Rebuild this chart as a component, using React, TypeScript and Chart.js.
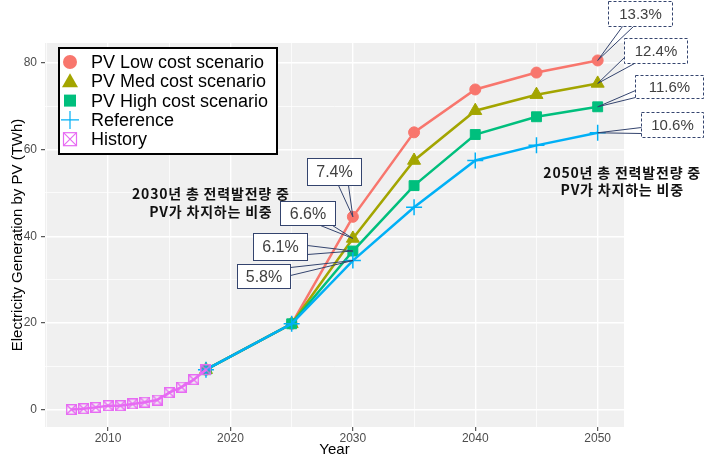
import React, { useEffect, useRef } from 'react';
import { Chart, registerables } from 'chart.js';

Chart.register(...registerables);

// ---------- data ----------
const scenarioYears = [2018, 2025, 2030, 2035, 2040, 2045, 2050];
const lowCost = [9.2, 19.8, 44.5, 64.0, 73.9, 77.8, 80.6];
const medCost = [9.2, 19.8, 39.5, 57.5, 69.0, 72.7, 75.3];
const highCost = [9.2, 19.8, 36.6, 51.7, 63.5, 67.6, 69.9];
const reference = [9.2, 19.8, 34.4, 46.7, 57.5, 61.0, 63.9];

const historyYears = [2007, 2008, 2009, 2010, 2011, 2012, 2013, 2014, 2015, 2016, 2017, 2018];
const historyValues = [0.0, 0.2, 0.5, 0.9, 0.9, 1.3, 1.7, 2.2, 3.9, 5.2, 6.9, 9.2];

const seriesNames = ['PV Low cost scenario', 'PV Med cost scenario', 'PV High cost scenario', 'Reference', 'History'];

const xGridValues = [2005, 2010, 2015, 2020, 2025, 2030, 2035, 2040, 2045, 2050];
const yGridValues = [0, 10, 20, 30, 40, 50, 60, 70, 80];

const share2030 = ['7.4%', '6.6%', '6.1%', '5.8%'];
const share2050 = ['13.3%', '12.4%', '11.6%', '10.6%'];
const note2030 = ['2030년 총 전력발전량 중', 'PV가 차지하는 비중'];
const note2050 = ['2050년 총 전력발전량 중', 'PV가 차지하는 비중'];

// ---------- styles ----------
const COLORS = ['#F8766D', '#A3A500', '#00BF7D', '#00B0F6', '#E76BF3'];
const FONT = '"Liberation Sans", Arial, sans-serif';
const KFONT = '"Noto Sans CJK KR", "Noto Sans", sans-serif';
const NAVY = '#34446E';

function makeHistoryMarker(size: number, lw: number) {
  const c = document.createElement('canvas');
  c.width = size;
  c.height = size;
  const g = c.getContext('2d')!;
  g.strokeStyle = COLORS[4];
  g.lineWidth = lw;
  const o = lw / 2;
  g.strokeRect(o, o, size - lw, size - lw);
  g.beginPath();
  g.moveTo(o, o);
  g.lineTo(size - o, size - o);
  g.moveTo(size - o, o);
  g.lineTo(o, size - o);
  g.stroke();
  return c;
}

const toPts = (xs: number[], ys: number[]) => xs.map((x, i) => ({ x, y: ys[i] }));

// callout layout: box offset relative to the data point, wedge base relative to box top-left
const callouts2030 = [
  { series: lowCost, dx: -46, dy: -59, w: 54, h: 27, base: [[31, 27], [41, 27]] },
  { series: medCost, dx: -73, dy: -37, w: 55, h: 24, base: [[40, 24], [52, 24]] },
  { series: highCost, dx: -100, dy: -18, w: 54, h: 27, base: [[54, 12], [54, 21]] },
  { series: reference, dx: -116, dy: 3, w: 53, h: 24, base: [[53, 3], [53, 11]] },
];
const callouts2050 = [
  { series: lowCost, dx: 10, dy: -59, w: 64, h: 25, base: [[14, 25], [25, 25]] },
  { series: medCost, dx: 26, dy: -45, w: 63, h: 25, base: [[0, 19], [10, 25]] },
  { series: highCost, dx: 37, dy: -32, w: 68, h: 23, base: [[0, 15], [0, 22]] },
  { series: reference, dx: 43, dy: -21, w: 62, h: 25, base: [[0, 15], [0, 21]] },
];

function drawCallout(ctx: CanvasRenderingContext2D, px: number, py: number, c: any, text: string, dashed: boolean, size: number) {
  const bx = Math.round(px + c.dx) + 0.5;
  const by = Math.round(py + c.dy) + 0.5;
  ctx.save();
  ctx.lineWidth = 1;
  ctx.strokeStyle = NAVY;
  ctx.fillStyle = '#FFFFFF';
  ctx.setLineDash(dashed ? [3, 2] : []);
  ctx.fillRect(bx, by, c.w, c.h);
  ctx.strokeRect(bx, by, c.w, c.h);
  ctx.setLineDash([]);
  ctx.beginPath();
  ctx.moveTo(bx + c.base[0][0], by + c.base[0][1]);
  ctx.lineTo(px, py);
  ctx.lineTo(bx + c.base[1][0], by + c.base[1][1]);
  ctx.stroke();
  ctx.fillStyle = '#404040';
  ctx.font = `${size}px ${FONT}`;
  ctx.textAlign = 'center';
  ctx.textBaseline = 'middle';
  ctx.fillText(text, bx + c.w / 2, by + c.h / 2 + 1);
  ctx.restore();
}

const panelPlugin = {
  id: 'panel',
  beforeDraw(chart: any) {
    const { ctx, chartArea: a } = chart;
    ctx.save();
    ctx.fillStyle = '#F0F0F0';
    ctx.fillRect(a.left, a.top, a.right - a.left, a.bottom - a.top);
    ctx.restore();
  },
};

const overlayPlugin = {
  id: 'overlay',
  afterDraw(chart: any) {
    const { ctx } = chart;
    const xs = chart.scales.x;
    const ys = chart.scales.y;

    // legend
    ctx.save();
    ctx.lineWidth = 2;
    ctx.strokeStyle = '#000';
    ctx.fillStyle = '#fff';
    ctx.fillRect(59, 48, 218, 106);
    ctx.strokeRect(59, 48, 218, 106);
    const mx = 70;
    seriesNames.forEach((name, i) => {
      const y = 62 + i * 19.3;
      const col = COLORS[i];
      ctx.fillStyle = col;
      ctx.strokeStyle = col;
      if (i === 0) {
        ctx.beginPath();
        ctx.arc(mx, y, 7, 0, Math.PI * 2);
        ctx.fill();
      } else if (i === 1) {
        ctx.beginPath();
        ctx.moveTo(mx, y - 8);
        ctx.lineTo(mx + 8, y + 6);
        ctx.lineTo(mx - 8, y + 6);
        ctx.closePath();
        ctx.fill();
      } else if (i === 2) {
        ctx.fillRect(mx - 6, y - 6, 12, 12);
      } else if (i === 3) {
        ctx.lineWidth = 1.2;
        ctx.beginPath();
        ctx.moveTo(mx - 9, y);
        ctx.lineTo(mx + 9, y);
        ctx.moveTo(mx, y - 9);
        ctx.lineTo(mx, y + 9);
        ctx.stroke();
      } else {
        ctx.lineWidth = 1.2;
        ctx.strokeRect(mx - 6.5, y - 6.5, 13, 13);
        ctx.beginPath();
        ctx.moveTo(mx - 6.5, y - 6.5);
        ctx.lineTo(mx + 6.5, y + 6.5);
        ctx.moveTo(mx + 6.5, y - 6.5);
        ctx.lineTo(mx - 6.5, y + 6.5);
        ctx.stroke();
      }
      ctx.fillStyle = '#000';
      ctx.font = `18px ${FONT}`;
      ctx.textAlign = 'left';
      ctx.textBaseline = 'middle';
      ctx.fillText(name, 91, y + 1);
    });
    ctx.restore();

    // callouts
    const i2030 = scenarioYears.indexOf(2030);
    const i2050 = scenarioYears.indexOf(2050);
    callouts2030.forEach((c, k) => {
      drawCallout(ctx, xs.getPixelForValue(2030), ys.getPixelForValue(c.series[i2030]), c, share2030[k], false, 16);
    });
    callouts2050.forEach((c, k) => {
      drawCallout(ctx, xs.getPixelForValue(2050), ys.getPixelForValue(c.series[i2050]), c, share2050[k], true, 15);
    });

    // notes
    ctx.save();
    ctx.fillStyle = '#111';
    ctx.font = `bold 14px ${KFONT}`;
    try { (ctx as any).letterSpacing = '0.8px'; } catch (e) { /* ignore */ }
    ctx.textAlign = 'center';
    ctx.textBaseline = 'middle';
    const n1x = xs.getPixelForValue(2018.4);
    const n1y = ys.getPixelForValue(49.8);
    note2030.forEach((t, k) => ctx.fillText(t, n1x, n1y + k * 18));
    const n2x = xs.getPixelForValue(2052.0);
    const n2y = ys.getPixelForValue(54.6);
    note2050.forEach((t, k) => ctx.fillText(t, n2x, n2y + k * 17));
    ctx.restore();
  },
};

export default function App() {
  const ref = useRef<HTMLCanvasElement>(null);
  useEffect(() => {
    const historyMarker = makeHistoryMarker(11, 1.4);
    const isMajorX = (v: number) => v % 10 === 0;
    const isMajorY = (v: number) => v % 20 === 0;
    const lineDs = (i: number, data: number[], style: any, radius: number, order: number, extra: any = {}) => ({
      label: seriesNames[i],
      data: toPts(scenarioYears, data),
      borderColor: COLORS[i],
      backgroundColor: COLORS[i],
      pointBackgroundColor: COLORS[i],
      pointBorderColor: COLORS[i],
      borderWidth: 2.5,
      pointStyle: style,
      pointRadius: radius,
      pointBorderWidth: 1,
      tension: 0,
      order,
      ...extra,
    });
    const chart = new Chart(ref.current!, {
      type: 'line',
      data: {
        datasets: [
          lineDs(0, lowCost, 'circle', 5.5, 4),
          lineDs(1, medCost, 'triangle', 7.5, 3),
          lineDs(2, highCost, 'rect', 7, 2),
          lineDs(3, reference, 'cross', 8, 1, { pointBorderWidth: 1.5 }),
          {
            label: seriesNames[4],
            data: toPts(historyYears, historyValues),
            borderColor: COLORS[4],
            backgroundColor: COLORS[4],
            borderWidth: 2.5,
            pointStyle: historyMarker,
            pointRadius: 6,
            tension: 0,
            order: 0,
          },
        ] as any,
      },
      options: {
        animation: false,
        responsive: false,
        devicePixelRatio: 1,
        layout: { padding: { left: 0, top: 43, right: 101, bottom: 0 } },
        plugins: { legend: { display: false }, tooltip: { enabled: false } },
        scales: {
          x: {
            type: 'linear',
            min: 2004.85,
            max: 2052.15,
            afterBuildTicks: (s: any) => { s.ticks = xGridValues.map((v) => ({ value: v })); },
            afterFit: (s: any) => { s.height = 33; },
            ticks: {
              autoSkip: false,
              maxRotation: 0,
              padding: 0,
              color: '#4D4D4D',
              font: { family: FONT, size: 12 },
              callback: (v: any) => (isMajorX(Number(v)) ? String(v) : ''),
            },
            grid: {
              color: '#FFFFFF',
              lineWidth: (c: any) => (c.tick && isMajorX(c.tick.value) ? 1.4 : 0.7),
              tickColor: (c: any) => (c.tick && isMajorX(c.tick.value) ? '#333333' : 'rgba(0,0,0,0)'),
              tickLength: 4,
              tickWidth: 1,
            },
            border: { display: false },
            title: {
              display: true,
              text: 'Year',
              color: '#000',
              font: { family: FONT, size: 15 },
              padding: { top: 0, bottom: 1 },
            },
          },
          y: {
            type: 'linear',
            min: -4.03,
            max: 84.63,
            afterBuildTicks: (s: any) => { s.ticks = yGridValues.map((v) => ({ value: v })); },
            afterFit: (s: any) => { s.width = 45; },
            ticks: {
              padding: 4,
              color: '#4D4D4D',
              font: { family: FONT, size: 12 },
              callback: (v: any) => (isMajorY(Number(v)) ? String(v) : ''),
            },
            grid: {
              color: '#FFFFFF',
              lineWidth: (c: any) => (c.tick && isMajorY(c.tick.value) ? 1.4 : 0.7),
              tickColor: (c: any) => (c.tick && isMajorY(c.tick.value) ? '#333333' : 'rgba(0,0,0,0)'),
              tickLength: 4,
              tickWidth: 1,
            },
            border: { display: false },
            title: {
              display: true,
              text: 'Electricity Generation by PV (TWh)',
              color: '#000',
              font: { family: FONT, size: 15 },
              padding: { top: 9, bottom: 0 },
            },
          },
        },
      } as any,
      plugins: [panelPlugin, overlayPlugin],
    });
    return () => chart.destroy();
  }, []);
  return (
    <div style={{ position: 'absolute', left: 0, top: 0, width: 725, height: 460, background: '#fff' }}>
      <canvas ref={ref} width={725} height={460} style={{ display: 'block', width: 725, height: 460 }} />
    </div>
  );
}
